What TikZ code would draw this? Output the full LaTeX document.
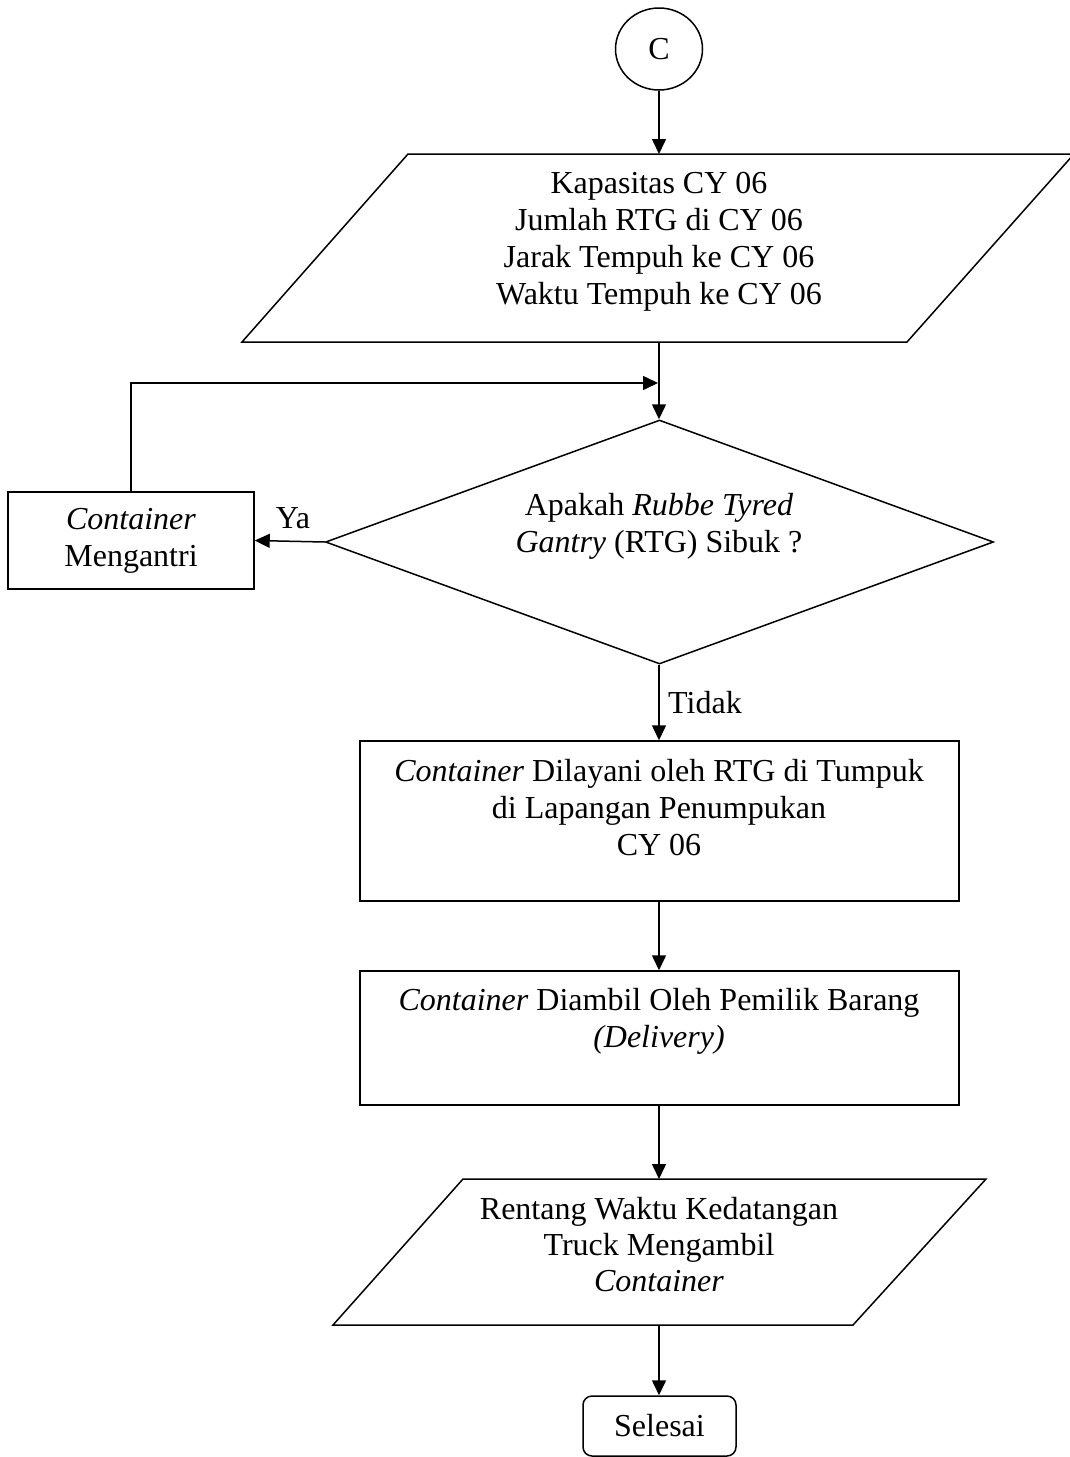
\documentclass[tikz,border=0pt]{standalone}
\usepackage{fontspec}
\setmainfont{Liberation Serif}
\usetikzlibrary{shapes.geometric,arrows.meta}
\begin{document}
\begin{tikzpicture}[x=1pt,y=-1pt,
  line width=1.5pt,
  txt/.style={font=\fontsize{32}{37}\selectfont, align=center, inner sep=0pt},
  box/.style={draw, rectangle, inner sep=0pt},
  flow/.style={-{Triangle[length=15pt,width=14pt]}}]
  \useasboundingbox (0,0) rectangle (1070,1457);

  % start connector
  \node[draw, ellipse, minimum width=87pt, minimum height=82pt, txt] (c) at (659,49) {C};

  % input parallelogram
  \draw (408,154) -- (1074,154) -- (907,342) -- (242,342) -- cycle;
  \coordinate (p1top) at (659,154);
  \coordinate (p1bot) at (659,342);
  \node[txt] (p1) at (659,242) {Kapasitas CY 06\\ Jumlah RTG di CY 06\\ Jarak Tempuh ke CY 06\\ Waktu Tempuh ke CY 06};

  % decision
  \node[draw, diamond, minimum width=668pt, minimum height=244pt, inner sep=0pt] (dec) at (659.5,542) {};
  \node[txt] (dect) at (659,526) {Apakah \textit{Rubbe Tyred}\\ \textit{Gantry} (RTG) Sibuk ?};

  % queue box
  \node[box, minimum width=246pt, minimum height=97pt] (q) at (131,540.5) {};
  \node[txt] (qt) at (131,541) {\textit{Container}\\ Mengantri};

  % served box
  \node[box, minimum width=599pt, minimum height=160pt] (s) at (659.5,821) {};
  \node[txt] (st) at (659,808) {\textit{Container} Dilayani oleh RTG di Tumpuk\\ di Lapangan Penumpukan\\ CY 06};

  % delivery box
  \node[box, minimum width=599pt, minimum height=134pt] (d) at (659.5,1038) {};
  \node[txt] (dt) at (659,1021) {\textit{Container} Diambil Oleh Pemilik Barang\\ \textit{(Delivery)}};

  % output parallelogram
  \draw (463,1179) -- (986,1179) -- (853,1325) -- (333,1325) -- cycle;
  \coordinate (p2top) at (659,1179);
  \coordinate (p2bot) at (659,1325);
  \node[txt, font=\fontsize{32}{36}\selectfont] (p2) at (659,1245) {Rentang Waktu Kedatangan\\ Truck Mengambil\\ \textit{Container}};

  % terminator
  \node[draw, rounded corners=9pt, minimum width=153pt, minimum height=60pt, txt] (end) at (659.5,1426) {Selesai};

  % connectors
  \draw[flow] (c) -- (p1top);
  \draw[flow] (p1bot) -- (dec.north -| p1bot);
  \coordinate (loop) at (658,383);
  \draw[flow] (q.north) |- (loop);
  \draw[flow] (dec.west) -- (q.east);
  \node[txt] (ya) at (293,518) {Ya};
  \draw[flow] (dec.south -| p1top) -- (s.north -| p1top);
  \node[txt] (tidak) at (705,703) {Tidak};
  \draw[flow] (s.south -| p1top) -- (d.north -| p1top);
  \draw[flow] (d.south -| p1top) -- (p2top);
  \draw[flow] (p2bot) -- (end.north -| p2bot);
\end{tikzpicture}
\end{document}
